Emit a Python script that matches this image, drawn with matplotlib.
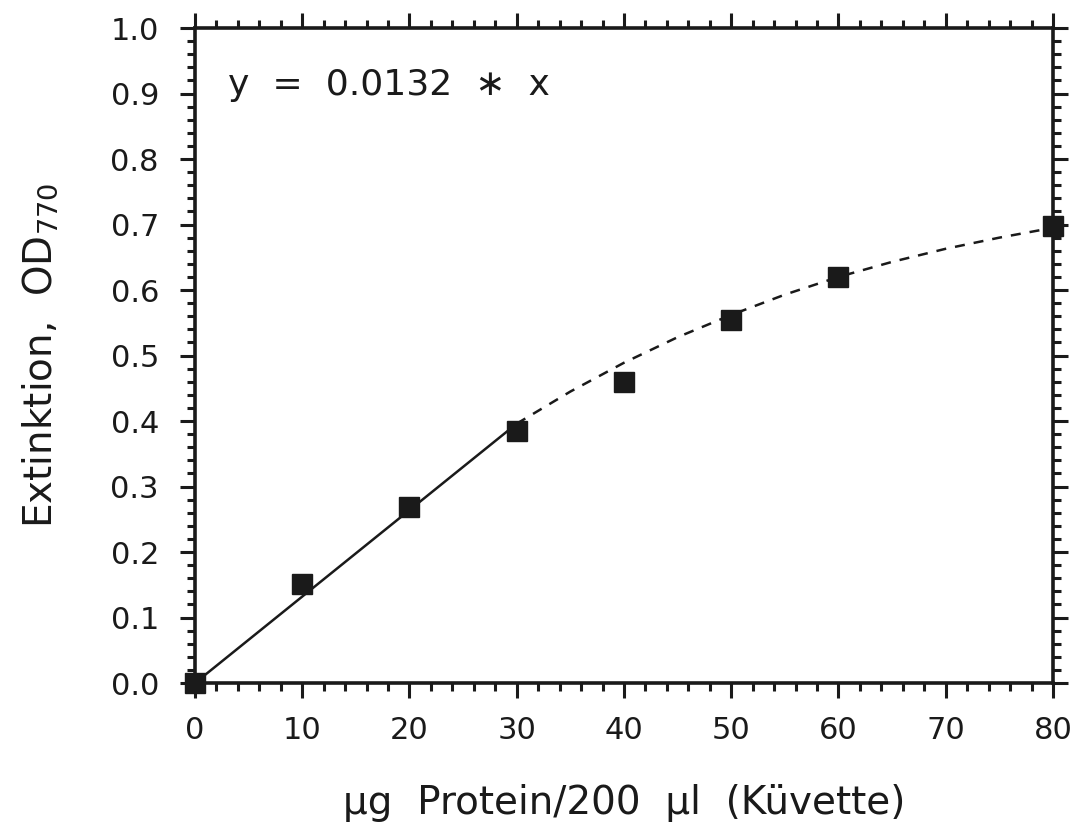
import matplotlib
matplotlib.use('Agg')
import matplotlib.pyplot as plt
from matplotlib.ticker import MultipleLocator

plt.rcParams['font.family'] = ['DejaVu Sans']

# measured points
protein = [0, 10, 20, 30, 40, 50, 60, 80]
od = [0.0, 0.151, 0.269, 0.385, 0.460, 0.554, 0.620, 0.698]

# linear fit part (y = 0.0132 * x)
fit_x = [0, 30]
fit_y = [0.0, 0.396]

# saturating part
curve_x = [30, 35, 40, 45, 50, 55, 60, 65, 70, 75, 80]
curve_y = [0.396, 0.445, 0.489, 0.528, 0.562, 0.593, 0.620, 0.643, 0.663, 0.680, 0.695]

ink = '#1a1a1a'

fig = plt.figure(figsize=(10.75, 8.25), dpi=100)
ax = fig.add_axes([0.1814, 0.1721, 0.7981, 0.7939])

ax.plot(fit_x, fit_y, color=ink, lw=1.8)
ax.plot(curve_x, curve_y, color=ink, lw=1.8, ls=(0, (4, 3.6)))
ax.plot(protein, od, ls='none', marker='s', ms=14, color=ink, clip_on=False, zorder=5)

ax.set_xlim(0, 80)
ax.set_ylim(0, 1.0)
ax.xaxis.set_major_locator(MultipleLocator(10))
ax.xaxis.set_minor_locator(MultipleLocator(2))
ax.yaxis.set_major_locator(MultipleLocator(0.1))
ax.yaxis.set_minor_locator(MultipleLocator(0.02))
ax.yaxis.set_major_formatter(plt.FormatStrFormatter('%.1f'))

for s in ax.spines.values():
    s.set_linewidth(2.6)
    s.set_color(ink)

ax.tick_params(which='both', direction='out', top=True, right=True,
               color=ink, width=2.2)
ax.tick_params(which='major', length=11, labelsize=22, labelcolor=ink)
ax.tick_params(axis='x', which='major', pad=13)
ax.tick_params(axis='y', which='major', pad=15)
ax.tick_params(which='minor', length=6)
ax.tick_params(labeltop=False, labelright=False)

ax.set_xlabel('µg  Protein/200  µl  (Küvette)', fontsize=28, color=ink,
              labelpad=28)
ax.set_ylabel('Extinktion,  OD$_{770}$', fontsize=28, color=ink, labelpad=36)

ax.text(0.038, 0.913, 'y  =  0.0132  ∗  x', transform=ax.transAxes,
        fontsize=26, color=ink, va='center', ha='left')

fig.savefig('out.png', dpi=100)
